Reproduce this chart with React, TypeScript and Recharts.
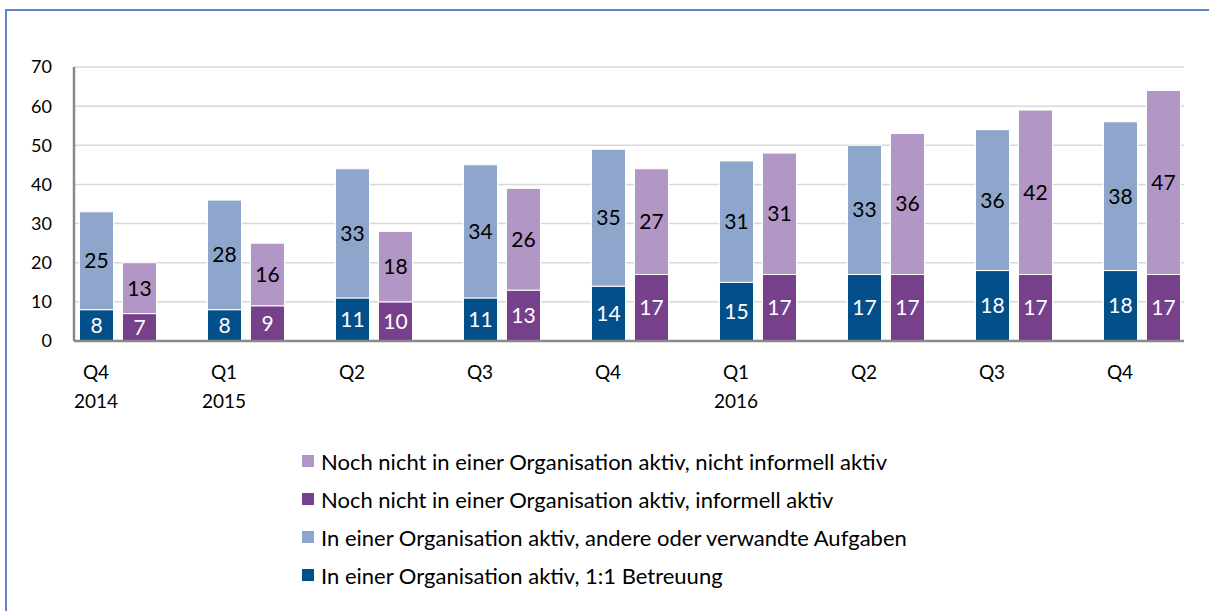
import {
  BarChart,
  Bar,
  XAxis,
  YAxis,
  CartesianGrid,
  LabelList,
  Legend,
} from "recharts";

// Quartale Q4 2014 bis Q4 2016
const quarters = ["Q4", "Q1", "Q2", "Q3", "Q4", "Q1", "Q2", "Q3", "Q4"];
const years = ["2014", "2015", "", "", "", "2016", "", "", ""];
const orgOneToOne = [8, 8, 11, 11, 14, 15, 17, 18, 18];
const orgOther = [25, 28, 33, 34, 35, 31, 33, 36, 38];
const notOrgInformal = [7, 9, 10, 13, 17, 17, 17, 17, 17];
const notOrgNone = [13, 16, 18, 26, 27, 31, 36, 42, 47];
const yTicks = [0, 10, 20, 30, 40, 50, 60, 70];

const FONT = "Lato, 'Open Sans', sans-serif";
const GRAY = "#898989";

const data = quarters.map((q, i) => ({
  key: `${q}-${i}`,
  orgOneToOne: orgOneToOne[i],
  orgOther: orgOther[i],
  notOrgInformal: notOrgInformal[i],
  notOrgNone: notOrgNone[i],
}));

function QuarterTick({ x, y, index }: any) {
  // label sits under the first bar of each pair
  return (
    <g transform={`translate(${x - 21.5},${y})`}>
      <text textAnchor="middle" fontFamily={FONT} fontSize={19} fill="#000">
        <tspan x={0} dy={32}>
          {quarters[index]}
        </tspan>
        {years[index] ? (
          <tspan x={0} dy={29}>
            {years[index]}
          </tspan>
        ) : null}
      </text>
    </g>
  );
}

function LegendList({ payload }: any) {
  const items = [...(payload ?? [])].reverse();
  return (
    <div style={{ fontFamily: FONT, fontSize: 22, color: "#000" }}>
      {items.map((it: any) => (
        <div key={it.value} style={{ display: "flex", alignItems: "center", height: 38 }}>
          <span
            style={{
              width: 12,
              height: 12,
              background: it.color,
              marginRight: 7,
              display: "inline-block",
            }}
          />
          {it.value}
        </div>
      ))}
    </div>
  );
}

export default function App() {
  return (
    <div
      style={{
        position: "absolute",
        left: 0,
        top: 0,
        width: 1209,
        height: 611,
        overflow: "hidden",
        background: "#fff",
      }}
    >
      <div
        style={{
          position: "absolute",
          left: 5,
          top: 9,
          width: 1220,
          height: 620,
          border: "2px solid #5a88c6",
          boxSizing: "border-box",
        }}
      />
      <div style={{ position: "absolute", left: 0, top: 0 }}>
        <BarChart
          width={1209}
          height={611}
          data={data}
          margin={{ top: 67, right: 25, left: 34, bottom: 210 }}
          barSize={34}
          barGap={9}
        >
          <CartesianGrid vertical={false} stroke="#d9d9d9" strokeWidth={1.5} />
          <XAxis
            dataKey="key"
            height={60}
            padding={{ left: -20.5, right: -21.5 }}
            tickLine={false}
            tickMargin={0}
            axisLine={{ stroke: GRAY, strokeWidth: 2.5 }}
            tick={<QuarterTick />}
            interval={0}
          />
          <XAxis
            xAxisId="frame"
            orientation="top"
            dataKey="key"
            height={0}
            tick={false}
            tickLine={false}
            axisLine={{ stroke: GRAY, strokeWidth: 2.5 }}
          />
          <YAxis
            width={40}
            domain={[0, 70]}
            ticks={yTicks}
            tickLine={false}
            tickMargin={16}
            axisLine={{ stroke: GRAY, strokeWidth: 2.5 }}
            tick={{ fontFamily: FONT, fontSize: 18, fill: "#000" }}
          />
          <YAxis
            yAxisId="frame"
            orientation="right"
            width={0}
            domain={[0, 70]}
            tick={false}
            tickLine={false}
            axisLine={{ stroke: GRAY, strokeWidth: 2.5 }}
          />
          <Legend
            layout="vertical"
            align="center"
            verticalAlign="middle"
            content={<LegendList />}
            wrapperStyle={{ position: "absolute", left: 302, top: 442, width: 800 }}
          />
          <Bar
            dataKey="orgOneToOne"
            stackId="org"
            name="In einer Organisation aktiv, 1:1 Betreuung"
            fill="#034f89"
            stroke="#fff"
            strokeWidth={1}
            isAnimationActive={false}
          >
            <LabelList dataKey="orgOneToOne" position="center" fill="#fff" fontFamily={FONT} fontSize={21} />
          </Bar>
          <Bar
            dataKey="orgOther"
            stackId="org"
            name="In einer Organisation aktiv, andere oder verwandte Aufgaben"
            fill="#8fa6cc"
            stroke="#fff"
            strokeWidth={1}
            isAnimationActive={false}
          >
            <LabelList dataKey="orgOther" position="center" fill="#000" fontFamily={FONT} fontSize={21} />
          </Bar>
          <Bar
            dataKey="notOrgInformal"
            stackId="none"
            name="Noch nicht in einer Organisation aktiv, informell aktiv"
            fill="#76418a"
            stroke="#fff"
            strokeWidth={1}
            isAnimationActive={false}
          >
            <LabelList dataKey="notOrgInformal" position="center" fill="#fff" fontFamily={FONT} fontSize={21} />
          </Bar>
          <Bar
            dataKey="notOrgNone"
            stackId="none"
            name="Noch nicht in einer Organisation aktiv, nicht informell aktiv"
            fill="#b296c5"
            stroke="#fff"
            strokeWidth={1}
            isAnimationActive={false}
          >
            <LabelList dataKey="notOrgNone" position="center" fill="#000" fontFamily={FONT} fontSize={21} />
          </Bar>
        </BarChart>
      </div>
    </div>
  );
}
